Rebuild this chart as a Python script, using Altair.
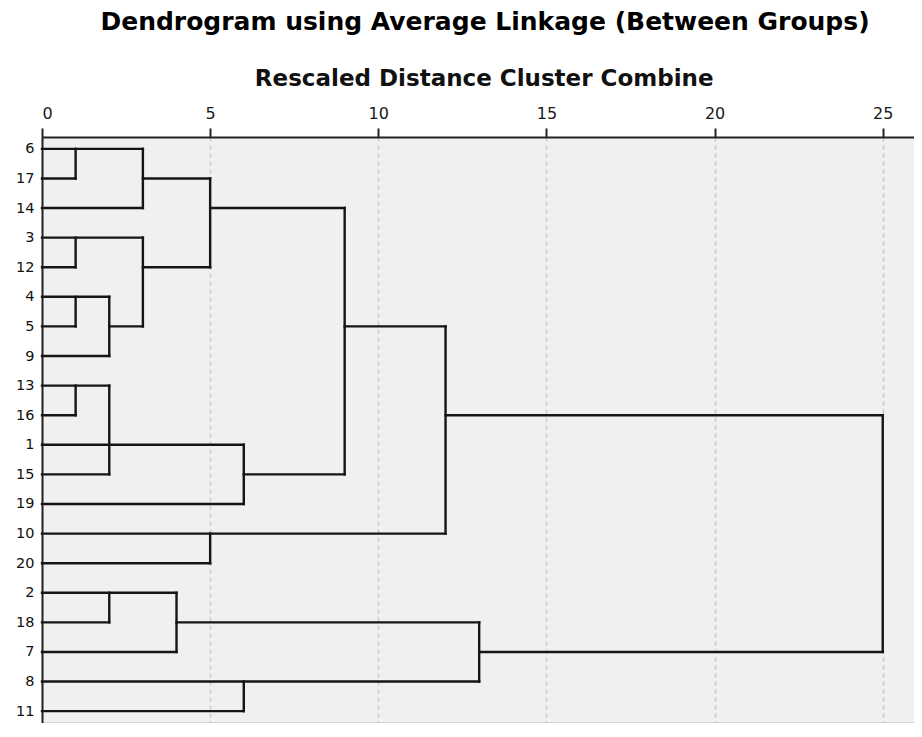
import altair as alt
import pandas as pd

# Leaf order (top to bottom)
leaf_labels = ['6', '17', '14', '3', '12', '4', '5', '9', '13', '16',
               '1', '15', '19', '10', '20', '2', '18', '7', '8', '11']

# Horizontal segments: row index, distance from, distance to
h_row  = [0, 1, 1, 2, 2, 3, 4, 4, 5, 6, 6, 6, 7, 8, 9, 9, 10, 11, 11, 12, 13, 14, 15, 16, 16, 17, 17, 18, 19]
h_from = [0, 0, 3, 0, 5, 0, 0, 3, 0, 0, 2, 9, 0, 0, 0, 12, 0, 0, 6, 0, 0, 0, 0, 0, 4, 0, 13, 0, 0]
h_to   = [3, 1, 5, 3, 9, 3, 1, 5, 2, 1, 3, 12, 2, 2, 1, 25, 6, 2, 9, 6, 12, 5, 4, 2, 13, 4, 25, 13, 6]

# Vertical segments: distance, row from, row to
v_dist     = [1, 3, 5, 1, 3, 1, 2, 9, 1, 2, 6, 12, 5, 25, 2, 4, 13, 6]
v_row_from = [0, 0, 1, 3, 3, 5, 5, 2, 8, 8, 10, 6, 13, 9, 15, 15, 16, 18]
v_row_to   = [1, 2, 4, 4, 6, 6, 7, 11, 9, 11, 12, 13, 14, 17, 16, 17, 18, 19]

x_ticks = [0, 5, 10, 15, 20, 25]

seg = pd.DataFrame({
    'x': h_from + v_dist,
    'x2': h_to + v_dist,
    'y': h_row + v_row_from,
    'y2': h_row + v_row_to,
})

label_expr = "[" + ",".join("'%s'" % l for l in leaf_labels) + "][datum.value]"

x_scale = alt.Scale(domain=[0, 25.93], nice=False, zero=False)
y_scale = alt.Scale(domain=[-0.4, 19.4], reverse=True, nice=False, zero=False)

lines = alt.Chart(seg).mark_rule(
    color='#151515', strokeWidth=2.4, strokeCap='square'
).encode(
    x=alt.X('x:Q', scale=x_scale, axis=alt.Axis(
        orient='top', values=x_ticks, format='d',
        title='Rescaled Distance Cluster Combine',
        titleFont='DejaVu Sans', titleFontSize=23, titleFontWeight='bold',
        titleColor='#111', titleY=-51.7, titleX=441.7, titleAlign='center',
        titleBaseline='alphabetic',
        labelFont='DejaVu Sans', labelFontSize=16, labelColor='#1a1a1a',
        labelBaseline='alphabetic', labelPadding=10,
        tickSize=9, tickWidth=2, tickColor='#222',
        domainColor='#222', domainWidth=2,
        grid=True, gridDash=[4, 4], gridColor='#c8c8c8', gridWidth=1.5,
    )),
    x2='x2:Q',
    y=alt.Y('y:Q', scale=y_scale, axis=alt.Axis(
        values=list(range(len(leaf_labels))), labelExpr=label_expr,
        title=None, ticks=False, tickSize=0, grid=False,
        labelFont='DejaVu Sans', labelFontSize=14.5, labelColor='#111',
        labelPadding=8, labelBaseline='middle',
        domainColor='#222', domainWidth=2,
    )),
    y2='y2:Q',
)

bottom = alt.Chart(seg).mark_rule(opacity=0).encode(
    x=alt.X('x:Q', scale=x_scale, axis=alt.Axis(
        orient='bottom', labels=False, ticks=False, grid=False, title=None,
        domainColor='#8a8a8a', domainWidth=1.5,
    )),
)

chart = alt.layer(lines, bottom).resolve_axis(x='independent').properties(
    width=872,
    height=586,
    padding={'left': 34, 'top': 129, 'right': 0, 'bottom': 0},
    autosize=alt.AutoSizeParams(type='none'),
    title=alt.Title(
        'Dendrogram using Average Linkage (Between Groups)',
        font='DejaVu Sans', fontSize=25, fontWeight='bold', color='#000',
        anchor='middle', baseline='alphabetic', offset=12, dx=7,
    ),
).configure_view(fill='#f0f0f0', stroke='transparent')

chart.save('out.html', embed_options={'renderer': 'svg', 'actions': False})
